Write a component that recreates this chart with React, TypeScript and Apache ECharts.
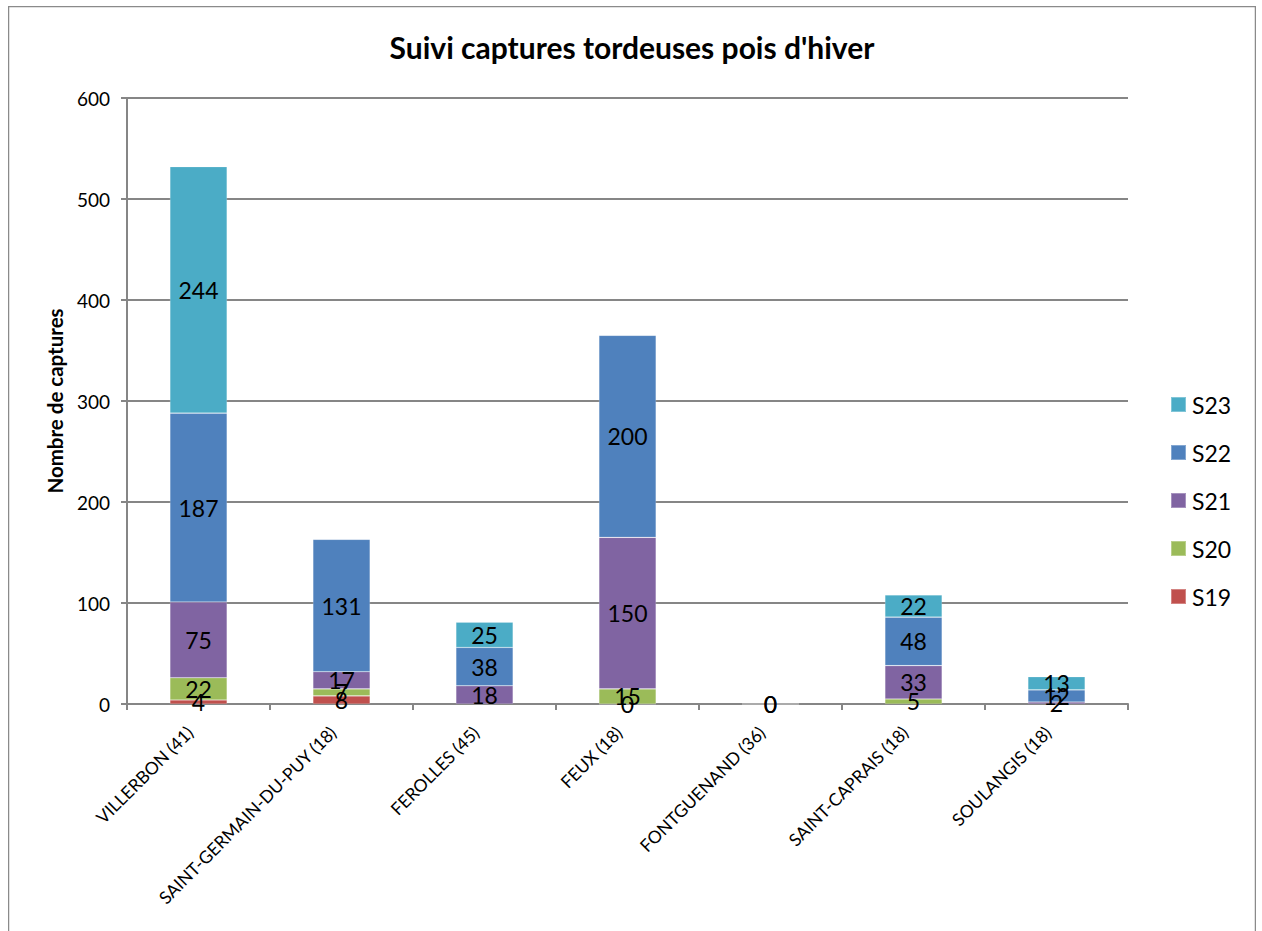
import React, { useEffect, useRef } from "react";
import * as echarts from "echarts";

const categories = [
  "VILLERBON (41)",
  "SAINT-GERMAIN-DU-PUY (18)",
  "FEROLLES (45)",
  "FEUX (18)",
  "FONTGUENAND (36)",
  "SAINT-CAPRAIS (18)",
  "SOULANGIS (18)",
];
const s19 = [4, 8, null, 0, 0, null, null];
const s20 = [22, 7, null, 15, 0, 5, null];
const s21 = [75, 17, 18, 150, null, 33, 2];
const s22 = [187, 131, 38, 200, null, 48, 12];
const s23 = [244, null, 25, null, null, 22, 13];
const yTicks = [0, 100, 200, 300, 400, 500, 600];

const seriesDefs = [
  { name: "S19", data: s19, color: "#C0504D" },
  { name: "S20", data: s20, color: "#9BBB59" },
  { name: "S21", data: s21, color: "#8064A2" },
  { name: "S22", data: s22, color: "#4F81BD" },
  { name: "S23", data: s23, color: "#4BACC6" },
];

const FONT = "Lato, 'Open Sans', sans-serif";

export default function App() {
  const ref = useRef<HTMLDivElement>(null);
  useEffect(() => {
    if (!ref.current) return;
    const chart = echarts.init(ref.current, null, { renderer: "svg" });
    chart.setOption({
      animation: false,
      backgroundColor: "#ffffff",
      textStyle: { fontFamily: FONT },
      title: {
        text: "Suivi captures tordeuses pois d'hiver",
        left: "center",
        top: 21,
        textStyle: { fontFamily: FONT, fontSize: 30, fontWeight: "bold", color: "#000" },
      },
      graphic: [
        {
          type: "rect",
          shape: { x: 0.5, y: 0.5, width: 1247, height: 940 },
          style: { fill: "none", stroke: "#8a8a8a", lineWidth: 1.5 },
          silent: true,
        },
      ],
      legend: {
        orient: "vertical",
        left: 1157,
        top: 382,
        itemWidth: 15,
        itemHeight: 15,
        itemGap: 25,
        icon: "rect",
        data: ["S23", "S22", "S21", "S20", "S19"],
        textStyle: {
          fontFamily: FONT,
          fontSize: 23,
          lineHeight: 23,
          color: "#000",
          padding: [0, 0, 0, 1],
        },
      },
      grid: { left: 119, right: 128, top: 92, bottom: 227, containLabel: false },
      xAxis: {
        type: "category",
        data: categories,
        axisLine: { lineStyle: { color: "#868686", width: 2 } },
        axisTick: { show: true, length: 6, lineStyle: { color: "#868686", width: 2 } },
        axisLabel: {
          rotate: 45,
          interval: 0,
          fontFamily: FONT,
          fontSize: 17.5,
          color: "#000",
          margin: 17,
          padding: [0, 12, 0, 0],
        },
      },
      yAxis: {
        type: "value",
        min: 0,
        max: 600,
        interval: 100,
        name: "Nombre de captures",
        nameLocation: "middle",
        nameGap: 62,
        nameTextStyle: { fontFamily: FONT, fontSize: 20.5, fontWeight: "bold", color: "#000" },
        axisLine: { show: true, lineStyle: { color: "#868686", width: 2 } },
        axisTick: { show: true, length: 6, lineStyle: { color: "#868686", width: 2 } },
        splitLine: { lineStyle: { color: "#868686", width: 2 } },
        axisLabel: {
          fontFamily: FONT,
          fontSize: 19,
          color: "#000",
          margin: 17,
          formatter: (v: number) => (yTicks.includes(v) ? String(v) : ""),
        },
      },
      series: seriesDefs.map((s) => ({
        name: s.name,
        type: "bar",
        stack: "total",
        barWidth: "40%",
        data: s.data,
        itemStyle: { color: s.color, borderColor: "rgba(255,255,255,0.3)", borderWidth: 0.6 },
        label: {
          show: true,
          position: "inside",
          fontFamily: FONT,
          fontSize: 23,
          color: "#000",
          formatter: (p: any) => (p.value === null || p.value === undefined ? "" : String(p.value)),
        },
      })),
    });
    return () => chart.dispose();
  }, []);
  return (
    <div
      ref={ref}
      style={{ position: "absolute", left: 8, top: 6, width: 1248, height: 925 }}
    />
  );
}
